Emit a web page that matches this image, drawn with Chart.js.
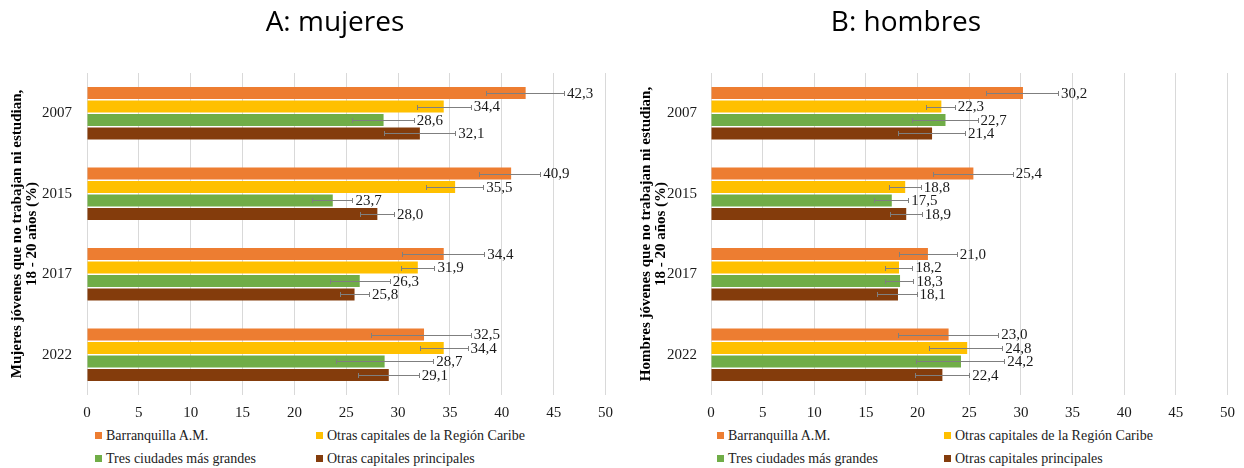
<!DOCTYPE html>
<html lang="es">
<head>
<meta charset="utf-8">
<title>Jóvenes que no trabajan ni estudian</title>
<script src="https://cdn.jsdelivr.net/npm/chart.js@4.4.1/dist/chart.umd.min.js"></script>
<style>
    html, body { margin: 0; padding: 0; background: #fff; }
    body { width: 1244px; height: 468px; position: relative; overflow: hidden; }
    .panel { position: absolute; top: 0; width: 622px; height: 425px; }
    .panel-title {
        position: absolute; top: 1px; width: 300px; text-align: center;
        font-family: "Open Sans", sans-serif; font-size: 28px; color: #000;
    }
    .legend {
        position: absolute; top: 428px;
        display: grid; grid-template-columns: 221px 260px; row-gap: 7px;
        font-family: "Liberation Serif", serif; font-size: 14px; color: #222;
    }
    .legend span.sw {
        display: inline-block; width: 7px; height: 7px; margin-right: 4px; vertical-align: 1px;
    }
</style>
</head>
<body>

<div class="panel" style="left:0"><canvas id="chart-a" width="622" height="425"></canvas></div>
<div class="panel" style="left:622px"><canvas id="chart-b" width="622" height="425"></canvas></div>

<div class="panel-title" style="left:185px">A: mujeres</div>
<div class="panel-title" style="left:756px">B: hombres</div>

<div class="legend" id="legend-a" style="left:95px"></div>
<div class="legend" id="legend-b" style="left:717px; grid-template-columns: 227px 260px"></div>

<script>
/* ------------------------------------------------------------------ */
/*  Data                                                               */
/* ------------------------------------------------------------------ */

const years = ['2007', '2015', '2017', '2022'];

const series_names = [
    'Barranquilla A.M.',
    'Otras capitales de la Región Caribe',
    'Tres ciudades más grandes',
    'Otras capitales principales'
];

const series_colors = ['#ED7D31', '#FFC000', '#70AD47', '#843C0C'];

/* A: mujeres — point estimates and [low, high] intervals */
const muj_barranquilla = [42.3, 40.9, 34.4, 32.5];
const muj_caribe = [34.4, 35.5, 31.9, 34.4];
const muj_tres = [28.6, 23.7, 26.3, 28.7];
const muj_principales = [32.1, 28.0, 25.8, 29.1];

const muj_barranquilla_ci = [[38.5, 46.0], [37.8, 43.7], [30.4, 38.3], [27.4, 37.0]];
const muj_caribe_ci = [[31.8, 37.0], [32.7, 38.2], [30.3, 33.5], [32.1, 36.7]];
const muj_tres_ci = [[25.6, 31.5], [21.7, 25.6], [23.4, 29.2], [24.0, 33.4]];
const muj_principales_ci = [[28.6, 35.5], [26.3, 29.6], [24.4, 27.2], [26.1, 32.0]];

/* B: hombres */
const hom_barranquilla = [30.2, 25.4, 21.0, 23.0];
const hom_caribe = [22.3, 18.8, 18.2, 24.8];
const hom_tres = [22.7, 17.5, 18.3, 24.2];
const hom_principales = [21.4, 18.9, 18.1, 22.4];

const hom_barranquilla_ci = [[26.6, 33.6], [21.5, 29.2], [18.2, 23.8], [18.1, 27.8]];
const hom_caribe_ci = [[20.8, 23.6], [17.2, 20.3], [16.8, 19.5], [21.1, 28.2]];
const hom_tres_ci = [[19.5, 25.8], [15.8, 19.1], [16.8, 19.6], [19.8, 28.4]];
const hom_principales_ci = [[18.1, 24.6], [17.3, 20.4], [16.1, 19.9], [19.7, 25.0]];

const x_ticks = [0, 5, 10, 15, 20, 25, 30, 35, 40, 45, 50];

/* ------------------------------------------------------------------ */
/*  Plugins: error bars and value labels                               */
/* ------------------------------------------------------------------ */

const errorBars = {
    id: 'errorBars',
    afterDatasetsDraw(chart) {
        const ctx = chart.ctx;
        const xs = chart.scales.x;
        ctx.save();
        ctx.strokeStyle = '#7f7f7f';
        ctx.lineWidth = 1;
        chart.data.datasets.forEach((ds, i) => {
            chart.getDatasetMeta(i).data.forEach((bar, j) => {
                const [lo, hi] = ds.ci[j];
                const y = Math.round(bar.y) + 0.5;
                const x1 = Math.round(xs.getPixelForValue(lo)) + 0.5;
                const x2 = Math.round(xs.getPixelForValue(hi)) + 0.5;
                ctx.beginPath();
                ctx.moveTo(x1, y); ctx.lineTo(x2, y);
                ctx.moveTo(x1, y - 2.5); ctx.lineTo(x1, y + 2.5);
                ctx.moveTo(x2, y - 2.5); ctx.lineTo(x2, y + 2.5);
                ctx.stroke();
            });
        });
        ctx.restore();
    }
};

const valueLabels = {
    id: 'valueLabels',
    afterDatasetsDraw(chart) {
        const ctx = chart.ctx;
        const xs = chart.scales.x;
        ctx.save();
        ctx.font = '15px "Liberation Serif", serif';
        ctx.fillStyle = '#1a1a1a';
        ctx.textBaseline = 'middle';
        ctx.textAlign = 'left';
        chart.data.datasets.forEach((ds, i) => {
            chart.getDatasetMeta(i).data.forEach((bar, j) => {
                const edge = Math.max(ds.data[j], ds.ci[j][1]);
                const label = ds.data[j].toFixed(1).replace('.', ',');
                ctx.fillText(label, xs.getPixelForValue(edge) + 3, bar.y + 1);
            });
        });
        ctx.restore();
    }
};

/* ------------------------------------------------------------------ */
/*  Chart factory                                                      */
/* ------------------------------------------------------------------ */

function buildChart(canvasId, values, cis, yTitle, axisWidth, rightPad, titlePad, tickPad) {
    const datasets = values.map((vals, i) => ({
        label: series_names[i],
        data: vals,
        ci: cis[i],
        backgroundColor: series_colors[i],
        borderWidth: 0,
        categoryPercentage: 0.67,
        barPercentage: 0.89
    }));

    return new Chart(document.getElementById(canvasId), {
        type: 'bar',
        data: { labels: years, datasets: datasets },
        options: {
            indexAxis: 'y',
            animation: false,
            responsive: false,
            layout: { padding: { top: 73, right: rightPad, left: 0, bottom: 0 } },
            scales: {
                x: {
                    min: 0,
                    max: 50,
                    afterBuildTicks: (scale) => { scale.ticks = x_ticks.map(v => ({ value: v })); },
                    afterFit: (scale) => { scale.height = 30; },
                    grid: { color: '#d9d9d9', drawTicks: false },
                    border: { display: false },
                    ticks: {
                        padding: 9,
                        color: '#1a1a1a',
                        font: { family: '"Liberation Serif", serif', size: 15 }
                    }
                },
                y: {
                    afterFit: (scale) => { scale.width = axisWidth; },
                    grid: { display: false, drawTicks: false },
                    border: { display: false },
                    ticks: {
                        padding: tickPad,
                        color: '#1a1a1a',
                        font: { family: '"Liberation Serif", serif', size: 15 }
                    },
                    title: {
                        display: true,
                        text: yTitle,
                        color: '#000',
                        padding: { top: titlePad, bottom: 0 },
                        font: { family: '"Liberation Serif", serif', size: 15, weight: 'bold', lineHeight: 1.0 }
                    }
                }
            },
            plugins: {
                legend: { display: false },
                tooltip: { enabled: false }
            }
        },
        plugins: [errorBars, valueLabels]
    });
}

function buildLegend(elId) {
    const el = document.getElementById(elId);
    el.innerHTML = series_names.map((name, i) =>
        `<div><span class="sw" style="background:${series_colors[i]}"></span>${name}</div>`
    ).join('');
}

buildChart('chart-a',
    [muj_barranquilla, muj_caribe, muj_tres, muj_principales],
    [muj_barranquilla_ci, muj_caribe_ci, muj_tres_ci, muj_principales_ci],
    ['Mujeres jóvenes que no trabajan ni estudian,', '18 - 20 años (%)'],
    87, 9, 10, 15);

buildChart('chart-b',
    [hom_barranquilla, hom_caribe, hom_tres, hom_principales],
    [hom_barranquilla_ci, hom_caribe_ci, hom_tres_ci, hom_principales_ci],
    ['Hombres jóvenes que no trabajan ni estudian,', '18 - 20 años (%)'],
    89, 12, 17, 14);

buildLegend('legend-a');
buildLegend('legend-b');
</script>
</body>
</html>
